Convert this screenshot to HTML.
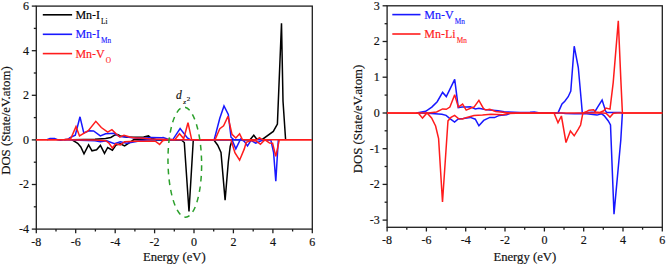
<!DOCTYPE html>
<html><head><meta charset="utf-8"><style>
html,body{margin:0;padding:0;background:#fff;width:666px;height:265px;overflow:hidden}
svg{display:block}
text{font-family:"Liberation Serif", serif;stroke-width:0.18}
</style></head><body>
<svg width="666" height="265" viewBox="0 0 666 265" fill="#111" stroke="#111">
<rect width="666" height="265" fill="#fff" stroke="none"/>
<rect x="36.3" y="6.1" width="276.0" height="223.0" fill="none" stroke="#1e1e1e" stroke-width="1.30"/>
<line x1="36.3" y1="229.1" x2="36.3" y2="233.3" stroke="#1e1e1e" stroke-width="1.30"/>
<text x="36.3" y="246.1" text-anchor="middle" font-size="12">-8</text>
<line x1="56.0" y1="229.1" x2="56.0" y2="231.5" stroke="#1e1e1e" stroke-width="1.30"/>
<line x1="75.7" y1="229.1" x2="75.7" y2="233.3" stroke="#1e1e1e" stroke-width="1.30"/>
<text x="75.7" y="246.1" text-anchor="middle" font-size="12">-6</text>
<line x1="95.4" y1="229.1" x2="95.4" y2="231.5" stroke="#1e1e1e" stroke-width="1.30"/>
<line x1="115.2" y1="229.1" x2="115.2" y2="233.3" stroke="#1e1e1e" stroke-width="1.30"/>
<text x="115.2" y="246.1" text-anchor="middle" font-size="12">-4</text>
<line x1="134.9" y1="229.1" x2="134.9" y2="231.5" stroke="#1e1e1e" stroke-width="1.30"/>
<line x1="154.6" y1="229.1" x2="154.6" y2="233.3" stroke="#1e1e1e" stroke-width="1.30"/>
<text x="154.6" y="246.1" text-anchor="middle" font-size="12">-2</text>
<line x1="174.3" y1="229.1" x2="174.3" y2="231.5" stroke="#1e1e1e" stroke-width="1.30"/>
<line x1="194.0" y1="229.1" x2="194.0" y2="233.3" stroke="#1e1e1e" stroke-width="1.30"/>
<text x="194.0" y="246.1" text-anchor="middle" font-size="12">0</text>
<line x1="213.7" y1="229.1" x2="213.7" y2="231.5" stroke="#1e1e1e" stroke-width="1.30"/>
<line x1="233.4" y1="229.1" x2="233.4" y2="233.3" stroke="#1e1e1e" stroke-width="1.30"/>
<text x="233.4" y="246.1" text-anchor="middle" font-size="12">2</text>
<line x1="253.2" y1="229.1" x2="253.2" y2="231.5" stroke="#1e1e1e" stroke-width="1.30"/>
<line x1="272.9" y1="229.1" x2="272.9" y2="233.3" stroke="#1e1e1e" stroke-width="1.30"/>
<text x="272.9" y="246.1" text-anchor="middle" font-size="12">4</text>
<line x1="292.6" y1="229.1" x2="292.6" y2="231.5" stroke="#1e1e1e" stroke-width="1.30"/>
<line x1="312.3" y1="229.1" x2="312.3" y2="233.3" stroke="#1e1e1e" stroke-width="1.30"/>
<text x="312.3" y="246.1" text-anchor="middle" font-size="12">6</text>
<line x1="31.8" y1="229.1" x2="36.3" y2="229.1" stroke="#1e1e1e" stroke-width="1.30"/>
<line x1="31.8" y1="184.5" x2="36.3" y2="184.5" stroke="#1e1e1e" stroke-width="1.30"/>
<line x1="31.8" y1="139.9" x2="36.3" y2="139.9" stroke="#1e1e1e" stroke-width="1.30"/>
<line x1="31.8" y1="95.3" x2="36.3" y2="95.3" stroke="#1e1e1e" stroke-width="1.30"/>
<line x1="31.8" y1="50.7" x2="36.3" y2="50.7" stroke="#1e1e1e" stroke-width="1.30"/>
<line x1="31.8" y1="6.1" x2="36.3" y2="6.1" stroke="#1e1e1e" stroke-width="1.30"/>
<line x1="33.8" y1="206.8" x2="36.3" y2="206.8" stroke="#1e1e1e" stroke-width="1.30"/>
<line x1="33.8" y1="162.2" x2="36.3" y2="162.2" stroke="#1e1e1e" stroke-width="1.30"/>
<line x1="33.8" y1="117.6" x2="36.3" y2="117.6" stroke="#1e1e1e" stroke-width="1.30"/>
<line x1="33.8" y1="73.0" x2="36.3" y2="73.0" stroke="#1e1e1e" stroke-width="1.30"/>
<line x1="33.8" y1="28.4" x2="36.3" y2="28.4" stroke="#1e1e1e" stroke-width="1.30"/>
<text x="29.0" y="232.9" text-anchor="end" font-size="12">-4</text>
<text x="29.0" y="188.3" text-anchor="end" font-size="12">-2</text>
<text x="29.0" y="143.7" text-anchor="end" font-size="12">0</text>
<text x="29.0" y="99.1" text-anchor="end" font-size="12">2</text>
<text x="29.0" y="54.5" text-anchor="end" font-size="12">4</text>
<text x="29.0" y="9.9" text-anchor="end" font-size="12">6</text>
<polyline points="72.0,139.8 95.0,139.3 105.6,138.6 110.8,137.5 115.0,134.9 117.7,134.6 120.3,135.9 126.7,137.3 137.0,137.2 143.7,137.0 148.5,135.9 151.1,138.0 156.4,139.8 181.1,139.8" fill="none" stroke="#000" stroke-width="1.50" stroke-linejoin="miter" stroke-miterlimit="3"/>
<polyline points="213.7,139.8 250.0,139.8 253.8,135.3 256.6,139.0 262.3,139.4 273.3,131.4 277.4,124.0 281.5,23.2 283.0,101.0 285.6,139.8" fill="none" stroke="#000" stroke-width="1.50" stroke-linejoin="miter" stroke-miterlimit="3"/>
<polyline points="72.0,139.8 77.7,143.3 80.8,147.0 84.0,153.9 88.6,144.8 92.0,150.8 96.6,149.8 100.4,145.4 104.5,153.3 107.7,147.5 112.4,150.2 116.1,144.9 120.3,143.8 124.6,145.9 127.7,143.8 133.6,139.8 181.1,139.8 184.3,142.5 189.0,211.5 193.3,139.8 213.7,139.8 217.7,145.2 221.0,152.4 225.1,200.2 228.3,162.0 230.2,146.5 232.2,139.8" fill="none" stroke="#000" stroke-width="1.50" stroke-linejoin="miter" stroke-miterlimit="3"/>
<polyline points="47.0,139.8 50.0,138.6 54.5,138.6 57.5,139.8 60.2,140.3 64.0,139.8 68.0,139.3 70.0,137.6 75.3,135.3 80.0,116.8 83.8,133.0 89.0,130.7 93.6,131.0 100.3,135.9 105.6,133.8 114.5,133.3 119.3,136.4 126.7,137.0 135.0,138.0 140.6,138.6 151.3,137.6 161.7,137.8 163.2,137.5 167.4,139.0 172.7,139.8 180.1,128.6 187.4,138.0 190.6,139.8 214.2,139.8 219.8,118.3 224.0,106.0 228.3,114.5 231.0,137.2 234.0,139.8 262.0,139.8 270.8,139.8" fill="none" stroke="#1818ff" stroke-width="1.50" stroke-linejoin="miter" stroke-miterlimit="3"/>
<polyline points="64.0,139.8 95.0,140.7 100.3,141.7 106.6,140.7 114.5,143.8 120.3,141.7 126.7,143.3 135.0,141.7 142.0,140.6 147.0,139.8 232.0,139.8 235.8,148.9 240.6,139.0 244.3,141.3 247.5,146.0 251.0,140.4 255.7,143.2 262.3,140.4 270.8,139.8 273.6,152.6 275.8,181.3 278.3,139.8" fill="none" stroke="#1818ff" stroke-width="1.50" stroke-linejoin="miter" stroke-miterlimit="3"/>
<polyline points="36.0,139.8 64.7,139.4 70.7,138.7 76.0,126.6 79.5,136.0 88.3,130.7 95.8,121.3 101.3,127.5 107.7,132.2 111.9,129.6 116.1,133.8 119.8,137.0 124.0,135.2 129.8,137.0 135.0,138.0 140.6,138.0 151.1,139.1 170.0,139.4 174.8,139.8 179.5,133.8 183.7,138.6 188.0,122.7 191.7,139.8 215.0,139.8 219.8,128.7 223.6,125.8 228.0,116.4 232.0,134.3 235.8,138.0 239.6,133.8 242.5,139.8 256.6,139.8 259.5,137.6 262.3,139.8 312.0,139.8" fill="none" stroke="#ff1c1c" stroke-width="1.50" stroke-linejoin="miter" stroke-miterlimit="3"/>
<polyline points="36.0,139.8 95.0,140.1 105.6,140.7 108.7,142.8 112.4,148.0 115.6,143.8 120.3,144.9 124.6,141.7 135.0,141.2 155.3,141.2 159.6,144.4 162.7,140.7 166.9,139.8 231.0,139.8 234.9,152.6 239.6,160.2 244.3,148.9 246.2,142.3 251.0,140.5 256.0,141.0 260.4,144.2 265.0,139.8 269.6,143.1 272.6,143.2 275.8,156.4 279.3,139.8 312.0,139.8" fill="none" stroke="#ff1c1c" stroke-width="1.50" stroke-linejoin="miter" stroke-miterlimit="3"/>
<ellipse transform="rotate(-0.9 184.8 162.2)" cx="184.8" cy="162.2" rx="16.8" ry="55" fill="none" stroke="#2ca02c" stroke-width="1.5" stroke-dasharray="5.6 4.914" stroke-dashoffset="7.01"/>
<text x="176.0" y="99.3" font-size="11.5" font-style="italic">d</text>
<text x="183.2" y="103.9" font-size="7" font-style="italic">z</text>
<text x="186.7" y="101.3" font-size="7">2</text>
<line x1="42.8" y1="14.8" x2="72.1" y2="14.8" stroke="#000" stroke-width="1.6"/>
<text x="75.4" y="18.8" font-size="12" fill="#000" stroke="#000">Mn-I<tspan font-size="7.3" dx="1" dy="4.9" style="stroke-width:0.12">Li</tspan></text>
<line x1="42.8" y1="34.3" x2="72.1" y2="34.3" stroke="#1818ff" stroke-width="1.6"/>
<text x="75.4" y="38.3" font-size="12" fill="#1818ff" stroke="#1818ff">Mn-I<tspan font-size="7.3" dx="1" dy="4.9" style="stroke-width:0.12">Mn</tspan></text>
<line x1="42.8" y1="53.6" x2="72.1" y2="53.6" stroke="#ff1c1c" stroke-width="1.6"/>
<text x="75.4" y="57.6" font-size="12" fill="#ff1c1c" stroke="#ff1c1c">Mn-V<tspan font-size="7.3" dx="1" dy="4.9" style="stroke-width:0.12">O</tspan></text>
<text transform="translate(9.8,120.6) rotate(-90)" text-anchor="middle" font-size="12.8">DOS (State/eV.atom)</text>
<text x="174.3" y="260.6" text-anchor="middle" font-size="12.7">Energy (eV)</text>
<rect x="387.1" y="5.8" width="275.2" height="221.5" fill="none" stroke="#1e1e1e" stroke-width="1.30"/>
<line x1="387.1" y1="227.3" x2="387.1" y2="231.5" stroke="#1e1e1e" stroke-width="1.30"/>
<text x="387.1" y="244.3" text-anchor="middle" font-size="12">-8</text>
<line x1="406.8" y1="227.3" x2="406.8" y2="229.7" stroke="#1e1e1e" stroke-width="1.30"/>
<line x1="426.4" y1="227.3" x2="426.4" y2="231.5" stroke="#1e1e1e" stroke-width="1.30"/>
<text x="426.4" y="244.3" text-anchor="middle" font-size="12">-6</text>
<line x1="446.1" y1="227.3" x2="446.1" y2="229.7" stroke="#1e1e1e" stroke-width="1.30"/>
<line x1="465.7" y1="227.3" x2="465.7" y2="231.5" stroke="#1e1e1e" stroke-width="1.30"/>
<text x="465.7" y="244.3" text-anchor="middle" font-size="12">-4</text>
<line x1="485.4" y1="227.3" x2="485.4" y2="229.7" stroke="#1e1e1e" stroke-width="1.30"/>
<line x1="505.0" y1="227.3" x2="505.0" y2="231.5" stroke="#1e1e1e" stroke-width="1.30"/>
<text x="505.0" y="244.3" text-anchor="middle" font-size="12">-2</text>
<line x1="524.7" y1="227.3" x2="524.7" y2="229.7" stroke="#1e1e1e" stroke-width="1.30"/>
<line x1="544.4" y1="227.3" x2="544.4" y2="231.5" stroke="#1e1e1e" stroke-width="1.30"/>
<text x="544.4" y="244.3" text-anchor="middle" font-size="12">0</text>
<line x1="564.0" y1="227.3" x2="564.0" y2="229.7" stroke="#1e1e1e" stroke-width="1.30"/>
<line x1="583.7" y1="227.3" x2="583.7" y2="231.5" stroke="#1e1e1e" stroke-width="1.30"/>
<text x="583.7" y="244.3" text-anchor="middle" font-size="12">2</text>
<line x1="603.3" y1="227.3" x2="603.3" y2="229.7" stroke="#1e1e1e" stroke-width="1.30"/>
<line x1="623.0" y1="227.3" x2="623.0" y2="231.5" stroke="#1e1e1e" stroke-width="1.30"/>
<text x="623.0" y="244.3" text-anchor="middle" font-size="12">4</text>
<line x1="642.6" y1="227.3" x2="642.6" y2="229.7" stroke="#1e1e1e" stroke-width="1.30"/>
<line x1="662.3" y1="227.3" x2="662.3" y2="231.5" stroke="#1e1e1e" stroke-width="1.30"/>
<text x="662.3" y="244.3" text-anchor="middle" font-size="12">6</text>
<line x1="382.6" y1="220.1" x2="387.1" y2="220.1" stroke="#1e1e1e" stroke-width="1.30"/>
<line x1="382.6" y1="184.4" x2="387.1" y2="184.4" stroke="#1e1e1e" stroke-width="1.30"/>
<line x1="382.6" y1="148.7" x2="387.1" y2="148.7" stroke="#1e1e1e" stroke-width="1.30"/>
<line x1="382.6" y1="113.0" x2="387.1" y2="113.0" stroke="#1e1e1e" stroke-width="1.30"/>
<line x1="382.6" y1="77.2" x2="387.1" y2="77.2" stroke="#1e1e1e" stroke-width="1.30"/>
<line x1="382.6" y1="41.5" x2="387.1" y2="41.5" stroke="#1e1e1e" stroke-width="1.30"/>
<line x1="382.6" y1="5.8" x2="387.1" y2="5.8" stroke="#1e1e1e" stroke-width="1.30"/>
<line x1="384.6" y1="202.2" x2="387.1" y2="202.2" stroke="#1e1e1e" stroke-width="1.30"/>
<line x1="384.6" y1="166.5" x2="387.1" y2="166.5" stroke="#1e1e1e" stroke-width="1.30"/>
<line x1="384.6" y1="130.8" x2="387.1" y2="130.8" stroke="#1e1e1e" stroke-width="1.30"/>
<line x1="384.6" y1="95.1" x2="387.1" y2="95.1" stroke="#1e1e1e" stroke-width="1.30"/>
<line x1="384.6" y1="59.4" x2="387.1" y2="59.4" stroke="#1e1e1e" stroke-width="1.30"/>
<line x1="384.6" y1="23.7" x2="387.1" y2="23.7" stroke="#1e1e1e" stroke-width="1.30"/>
<text x="379.8" y="223.9" text-anchor="end" font-size="12">-3</text>
<text x="379.8" y="188.2" text-anchor="end" font-size="12">-2</text>
<text x="379.8" y="152.5" text-anchor="end" font-size="12">-1</text>
<text x="379.8" y="116.8" text-anchor="end" font-size="12">0</text>
<text x="379.8" y="81.0" text-anchor="end" font-size="12">1</text>
<text x="379.8" y="45.3" text-anchor="end" font-size="12">2</text>
<text x="379.8" y="9.6" text-anchor="end" font-size="12">3</text>
<polyline points="416.5,112.9 425.7,111.3 431.8,107.1 437.2,101.7 442.6,92.4 446.3,96.6 454.7,79.4 458.3,107.7 462.0,107.1 466.8,107.1 470.4,106.8 475.3,108.9 478.9,108.3 485.0,109.5 489.8,110.1 498.1,110.8 504.2,111.8 520.0,112.4 530.0,112.2 534.4,111.9 540.0,112.9 558.0,112.9 562.0,104.0 564.8,101.2 568.2,96.7 570.8,91.1 574.2,46.2 578.3,67.5 581.2,100.0 582.3,112.9 594.7,112.0 598.1,106.3 602.1,100.1 605.5,110.8 606.6,112.5 620.7,112.6 622.4,112.9" fill="none" stroke="#1818ff" stroke-width="1.50" stroke-linejoin="miter" stroke-miterlimit="3"/>
<polyline points="416.5,112.9 428.0,113.3 441.9,114.2 446.1,115.4 449.9,118.6 454.6,122.1 458.2,119.0 463.2,118.6 470.4,117.4 475.3,119.2 478.9,125.8 483.7,120.4 489.8,117.4 494.5,117.6 499.3,115.4 506.6,114.8 511.4,112.9 561.3,112.9 565.4,113.4 574.4,113.8 578.9,113.4 586.8,113.7 597.0,115.1 601.5,113.7 604.3,115.9 608.3,121.0 610.5,125.0 614.0,214.1 620.8,140.0 622.4,112.9" fill="none" stroke="#1818ff" stroke-width="1.50" stroke-linejoin="miter" stroke-miterlimit="3"/>
<polyline points="387.0,112.9 428.1,112.9 436.6,111.9 442.6,108.9 446.3,109.3 449.9,107.1 454.7,94.8 458.3,107.1 462.6,104.1 466.2,110.1 471.6,107.7 474.0,107.1 478.9,100.4 483.7,108.9 486.0,110.0 489.7,109.3 495.7,111.5 510.2,112.9 583.0,112.9 586.8,111.4 589.0,110.3 593.6,109.7 595.8,112.0 599.8,112.5 603.8,110.8 606.0,108.0 610.0,109.1 613.2,82.6 618.3,20.9 620.8,78.9 622.4,112.9 662.3,112.9" fill="none" stroke="#ff1c1c" stroke-width="1.50" stroke-linejoin="miter" stroke-miterlimit="3"/>
<polyline points="387.0,112.9 418.5,113.2 422.5,118.1 427.0,112.9 431.6,117.9 435.6,126.0 438.6,138.6 442.5,202.0 447.7,125.0 448.0,120.9 451.0,117.3 454.6,115.4 458.8,118.8 462.5,119.0 466.8,117.4 474.0,115.5 482.5,115.0 490.9,114.2 503.0,114.8 507.8,113.6 516.3,113.2 554.0,112.9 558.0,122.7 561.4,116.0 566.0,142.5 570.4,131.1 574.2,135.8 578.3,129.2 580.6,125.0 582.9,112.9 602.6,112.9 606.0,113.3 610.0,117.1 613.4,113.3 617.3,112.9 662.3,112.9" fill="none" stroke="#ff1c1c" stroke-width="1.50" stroke-linejoin="miter" stroke-miterlimit="3"/>
<line x1="392.3" y1="14.6" x2="420.5" y2="14.6" stroke="#1818ff" stroke-width="1.6"/>
<text x="424.3" y="18.6" font-size="12" fill="#1818ff" stroke="#1818ff">Mn-V<tspan font-size="7.3" dx="1" dy="4.9" style="stroke-width:0.12">Mn</tspan></text>
<line x1="392.3" y1="34.0" x2="420.5" y2="34.0" stroke="#ff1c1c" stroke-width="1.6"/>
<text x="424.3" y="38.0" font-size="12" fill="#ff1c1c" stroke="#ff1c1c">Mn-Li<tspan font-size="7.3" dx="1" dy="4.9" style="stroke-width:0.12">Mn</tspan></text>
<text transform="translate(361.9,119.0) rotate(-90)" text-anchor="middle" font-size="12.8">DOS (State/eV.atom)</text>
<text x="524.8" y="260.6" text-anchor="middle" font-size="12.7">Energy (eV)</text>
</svg>
</body></html>
